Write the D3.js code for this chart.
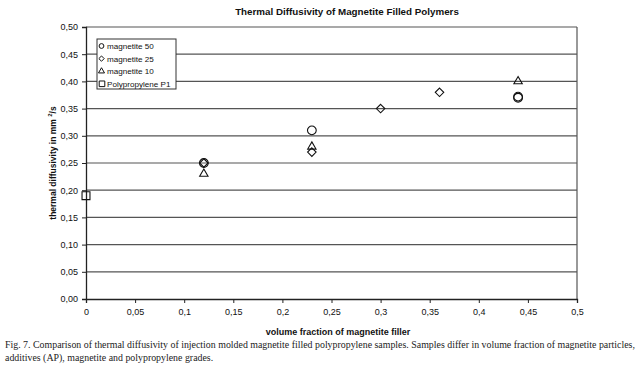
<!DOCTYPE html>
<html><head><meta charset="utf-8">
<script src="https://cdn.jsdelivr.net/npm/d3@7"></script>
<style>body{margin:0;background:#fff}svg{display:block}</style>
</head><body>
<svg id="c" width="635" height="381"></svg>
<script>
const xTicks = [0,0.05,0.1,0.15,0.2,0.25,0.3,0.35,0.4,0.45,0.5];
const yTicks = [0,0.05,0.1,0.15,0.2,0.25,0.3,0.35,0.4,0.45,0.5];
const seriesNames = ["magnetite 50","magnetite 25","magnetite 10","Polypropylene P1"];
const mag50 = [[0.12,0.25],[0.23,0.31],[0.44,0.37],[0.44,0.372]];
const mag25 = [[0.12,0.25],[0.23,0.27],[0.30,0.35],[0.36,0.38]];
const mag10 = [[0.12,0.23],[0.23,0.28],[0.44,0.40]];
const pp1 = [[0,0.19]];
const fmt = v => d3.format(".2f")(v).replace(".", ",");
const fmtX = v => String(v).replace(".", ",");

const svg = d3.select("#c");
const L=86,R=577,T=27,B=299;
const x = d3.scaleLinear().domain([0,0.5]).range([L,R]);
const y = d3.scaleLinear().domain([0,0.5]).range([B,T]);
const font = "Arial, 'Liberation Sans', sans-serif";

svg.append("g").selectAll("line").data(yTicks.slice(1)).join("line")
  .attr("x1",L).attr("x2",R).attr("y1",d=>y(d)).attr("y2",d=>y(d))
  .attr("stroke","#555").attr("stroke-width",1.2);
svg.append("line").attr("x1",R).attr("x2",R).attr("y1",T).attr("y2",B).attr("stroke","#555").attr("stroke-width",1.2);

const yAxis = svg.append("g").attr("transform",`translate(${L},0)`)
  .call(d3.axisLeft(y).tickValues(yTicks).tickFormat(fmt).tickSize(4).tickPadding(4));
const xAxis = svg.append("g").attr("transform",`translate(0,${B})`)
  .call(d3.axisBottom(x).tickValues(xTicks).tickFormat(fmtX).tickSize(4).tickPadding(6));
[yAxis,xAxis].forEach(a=>{
  a.selectAll("text").attr("font-family",font).attr("font-size",9).attr("fill","#111");
  a.select(".domain").attr("stroke","#222").attr("stroke-width",1.3);
  a.selectAll(".tick line").attr("stroke","#222");
});

svg.append("text").attr("x",347).attr("y",15).attr("text-anchor","middle")
  .attr("font-family",font).attr("font-weight","bold").attr("font-size",9.8).attr("fill","#111")
  .text("Thermal Diffusivity of Magnetite Filled Polymers");
svg.append("text").attr("x",338).attr("y",335).attr("text-anchor","middle")
  .attr("font-family",font).attr("font-weight","bold").attr("font-size",9).attr("fill","#111")
  .text("volume fraction of magnetite filler");
const yt = svg.append("text").attr("transform",`translate(56,${(T+B)/2}) rotate(-90)`).attr("text-anchor","middle")
  .attr("font-family",font).attr("font-weight","bold").attr("font-size",8.5).attr("fill","#111");
yt.append("tspan").text("thermal diffusivity in mm ");
yt.append("tspan").attr("font-size",6).attr("dy",-4).text("2");
yt.append("tspan").attr("dy",4).text("/s");

const sym = {
  circle: d3.symbol().type(d3.symbolCircle).size(60),
  diamond: d3.symbol().type(d3.symbolDiamond2).size(46),
  triangle: d3.symbol().type(d3.symbolTriangle2).size(50),
  square: d3.symbol().type(d3.symbolSquare2).size(80)
};
function draw(data, s){
  svg.append("g").selectAll("path").data(data).join("path")
    .attr("d", sym[s]()).attr("transform", d=>`translate(${x(d[0])},${y(d[1])})`)
    .attr("fill","none").attr("stroke","#111").attr("stroke-width",1.1);
}
draw(pp1,"square"); draw(mag10,"triangle"); draw(mag25,"diamond"); draw(mag50,"circle");

const lg = svg.append("g");
lg.append("rect").attr("x",97).attr("y",39).attr("width",79).attr("height",50)
  .attr("fill","#fff").attr("stroke","#333").attr("stroke-width",1);
const legSym = [
  d3.symbol().type(d3.symbolCircle).size(18),
  d3.symbol().type(d3.symbolDiamond2).size(18),
  d3.symbol().type(d3.symbolTriangle2).size(26),
  d3.symbol().type(d3.symbolSquare2).size(40)];
seriesNames.forEach((n,i)=>{
  const cy = 46 + i*12.6;
  lg.append("path").attr("d",legSym[i]()).attr("transform",`translate(${i==3?102:101.5},${cy})`)
    .attr("fill","none").attr("stroke","#111").attr("stroke-width",1);
  lg.append("text").attr("x",107).attr("y",cy+3.2).attr("font-family",font).attr("font-size",8.1).attr("fill","#111").text(n);
});

const cap = ["Fig. 7. Comparison of thermal diffusivity of injection molded magnetite filled polypropylene samples. Samples differ in volume fraction of magnetite particles,",
  "additives (AP), magnetite and polypropylene grades."];
svg.append("text").attr("x",5).attr("y",348).attr("font-family","'Liberation Serif','Times New Roman',serif")
  .attr("font-size",9.9).attr("fill","#222").text(cap[0]);
svg.append("text").attr("x",5).attr("y",361).attr("font-family","'Liberation Serif','Times New Roman',serif")
  .attr("font-size",9.9).attr("fill","#222").text(cap[1]);
</script>
</body></html>
